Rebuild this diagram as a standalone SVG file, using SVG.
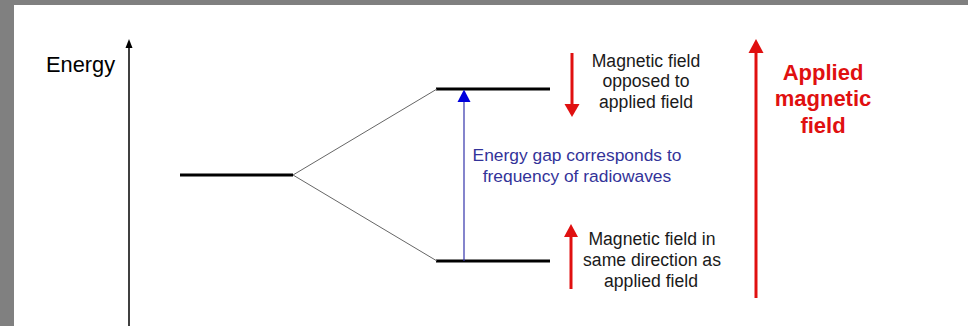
<svg xmlns="http://www.w3.org/2000/svg" width="968" height="326" viewBox="0 0 968 326">
<style>
text{font-family:"Liberation Sans",Arial,sans-serif}
.lbl{font-size:17.6px;fill:#1a1a1a;text-anchor:middle}
.blue{font-size:17.4px;fill:#333399;text-anchor:middle}
.big{font-size:22px;font-weight:bold;fill:#e01010;text-anchor:middle}
.lvl{stroke:#000;stroke-width:3;fill:none}
.split{stroke:#666;stroke-width:1;fill:none}
</style>
<rect x="0" y="0" width="968" height="326" fill="#ffffff"/>
<rect x="0" y="0" width="968" height="5" fill="#808080"/>
<rect x="0" y="0" width="14" height="326" fill="#808080"/>
<g id="axis">
<line x1="129" y1="326" x2="129" y2="46" stroke="#000" stroke-width="1.5"/>
<path d="M125.5,48 L129,39 L132.5,48 Z" fill="#000"/>
<text x="46" y="72" style="font-size:21.8px;fill:#000">Energy</text>
</g>
<g id="ground-level"><line class="lvl" x1="180" y1="175" x2="293" y2="175"/></g>
<g id="upper-level"><line class="lvl" x1="436" y1="89" x2="550" y2="89"/></g>
<g id="lower-level"><line class="lvl" x1="436" y1="261" x2="550" y2="261"/></g>
<g id="connectors">
<line class="split" x1="293" y1="175" x2="437" y2="89"/>
<line class="split" x1="293" y1="175" x2="437" y2="261"/>
<line x1="464" y1="261" x2="464" y2="100" stroke="#3333aa" stroke-width="1.2"/>
<path d="M457.5,102 L464,89.5 L470.5,102 Z" fill="#0000dd"/>
</g>
<g id="gap-label">
<text class="blue" x="577" y="161">Energy gap corresponds to</text>
<text class="blue" x="577" y="182">frequency of radiowaves</text>
</g>
<g id="opposed">
<line x1="572" y1="53" x2="572" y2="106" stroke="#e01010" stroke-width="3"/>
<path d="M564.5,104 L572,117 L579.5,104 Z" fill="#e01010"/>
<text class="lbl" x="646" y="67">Magnetic field</text>
<text class="lbl" x="646" y="87">opposed to</text>
<text class="lbl" x="646" y="108">applied field</text>
</g>
<g id="aligned">
<line x1="571" y1="235" x2="571" y2="289" stroke="#e01010" stroke-width="3"/>
<path d="M564,237 L571,224 L578,237 Z" fill="#e01010"/>
<text class="lbl" x="652" y="245">Magnetic field in</text>
<text class="lbl" x="652" y="266">same direction as</text>
<text class="lbl" x="651" y="287">applied field</text>
</g>
<g id="applied">
<line x1="756" y1="50" x2="756" y2="298" stroke="#e01010" stroke-width="3"/>
<path d="M748.5,53 L756,39 L763.5,53 Z" fill="#e01010"/>
<text class="big" x="823" y="80">Applied</text>
<text class="big" x="823" y="106">magnetic</text>
<text class="big" x="823" y="133">field</text>
</g>
</svg>
